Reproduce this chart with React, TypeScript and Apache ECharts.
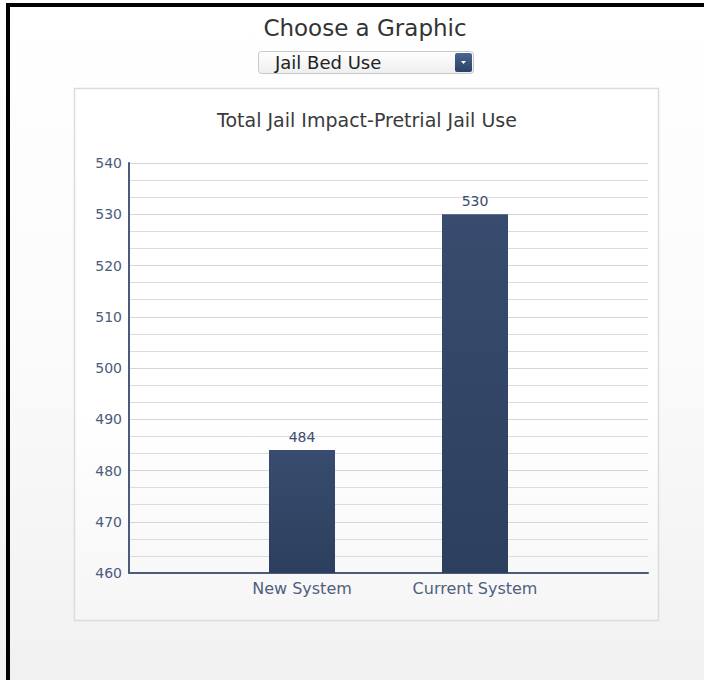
import React, { useEffect, useRef } from "react";
import * as echarts from "echarts";

const categories = ["New System", "Current System"];
const values = [484, 530];
const yMin = 460;
const yMax = 540;
const yStep = 10;
const chartTitle = "Total Jail Impact-Pretrial Jail Use";
const headerText = "Choose a Graphic";
const selectText = "Jail Bed Use";

const FONT = "'DejaVu Sans', Verdana, sans-serif";

export default function App() {
  const ref = useRef<HTMLDivElement>(null);
  useEffect(() => {
    if (!ref.current) return;
    const chart = echarts.init(ref.current, undefined, { renderer: "svg" });
    const axisCats = ["", ...categories, ""];
    const data: any[] = ["-", ...values, "-"];
    chart.setOption({
      animation: false,
      graphic: [
        {
          type: "rect",
          z: -20,
          shape: { x: 0, y: 0, width: 704, height: 680 },
          style: {
            fill: new echarts.graphic.LinearGradient(0, 0, 0, 1, [
              { offset: 0, color: "#ffffff" },
              { offset: 0.5, color: "#fbfbfb" },
              { offset: 1, color: "#f1f1f1" },
            ]),
          },
        },
        { type: "rect", z: -19, shape: { x: 6, y: 3, width: 700, height: 4 }, style: { fill: "#000" } },
        { type: "rect", z: -19, shape: { x: 6, y: 3, width: 4, height: 680 }, style: { fill: "#000" } },
        {
          type: "text",
          z: -18,
          x: 365,
          y: 28,
          style: {
            text: headerText,
            fontFamily: FONT,
            fontSize: 23,
            fill: "#333333",
            textAlign: "center",
            textVerticalAlign: "middle",
          },
        },
        {
          type: "rect",
          z: -18,
          shape: { x: 258.5, y: 51.5, width: 215, height: 22, r: 3 },
          style: {
            fill: new echarts.graphic.LinearGradient(0, 0, 0, 1, [
              { offset: 0, color: "#ffffff" },
              { offset: 1, color: "#eeeeee" },
            ]),
            stroke: "#c8c8c8",
            lineWidth: 1,
          },
        },
        {
          type: "rect",
          z: -17,
          shape: { x: 455, y: 53, width: 17, height: 19, r: 2 },
          style: {
            fill: new echarts.graphic.LinearGradient(0, 0, 0, 1, [
              { offset: 0, color: "#4a6790" },
              { offset: 1, color: "#2a4168" },
            ]),
          },
        },
        {
          type: "polygon",
          z: -16,
          shape: { points: [[461, 61], [466, 61], [463.5, 64]] },
          style: { fill: "#ffffff" },
        },
        {
          type: "text",
          z: -17,
          x: 275,
          y: 62,
          style: {
            text: selectText,
            fontFamily: FONT,
            fontSize: 18,
            fill: "#222222",
            textAlign: "left",
            textVerticalAlign: "middle",
          },
        },
        {
          type: "rect",
          z: -15,
          shape: { x: 74.5, y: 88.5, width: 584, height: 532 },
          style: {
            fill: new echarts.graphic.LinearGradient(0, 0, 0, 1, [
              { offset: 0, color: "#ffffff" },
              { offset: 0.6, color: "#ffffff" },
              { offset: 1, color: "#f6f6f6" },
            ]),
            stroke: "#dcdcdc",
            lineWidth: 1.5,
          },
        },
        {
          type: "text",
          z: -14,
          x: 367,
          y: 120,
          style: {
            text: chartTitle,
            fontFamily: FONT,
            fontSize: 19,
            fill: "#3a3a3a",
            textAlign: "center",
            textVerticalAlign: "middle",
          },
        },
      ],
      grid: { left: 129, right: 56, top: 163, bottom: 107, containLabel: false },
      xAxis: {
        type: "category",
        data: axisCats,
        boundaryGap: false,
        axisLine: { show: true, lineStyle: { color: "#4b5b7b", width: 2 } },
        axisTick: { show: false },
        axisLabel: {
          color: "#4f5f7f",
          fontFamily: FONT,
          fontSize: 16,
          margin: 7,
        },
        splitLine: { show: false },
      },
      yAxis: {
        type: "value",
        min: yMin,
        max: yMax,
        interval: yStep,
        axisLine: { show: true, lineStyle: { color: "#4b5b7b", width: 2 } },
        axisTick: { show: false },
        axisLabel: {
          color: "#4b5b7b",
          fontFamily: FONT,
          fontSize: 14,
          margin: 7,
        },
        splitLine: { show: true, lineStyle: { color: "#d6d6d6", width: 1 } },
        minorTick: { show: false, splitNumber: 3 },
        minorSplitLine: { show: true, lineStyle: { color: "#dcdcdc", width: 1 } },
      },
      series: [
        {
          type: "bar",
          data,
          barWidth: 66,
          itemStyle: {
            color: new echarts.graphic.LinearGradient(0, 0, 0, 1, [
              { offset: 0, color: "#374c6e" },
              { offset: 1, color: "#2d3f5e" },
            ]),
          },
          label: {
            show: true,
            position: "top",
            distance: 6,
            color: "#3b4d6e",
            fontFamily: FONT,
            fontSize: 14,
          },
        },
      ],
    });
    return () => chart.dispose();
  }, []);
  return (
    <div
      ref={ref}
      style={{ position: "absolute", left: 0, top: 0, width: 704, height: 680 }}
    />
  );
}
